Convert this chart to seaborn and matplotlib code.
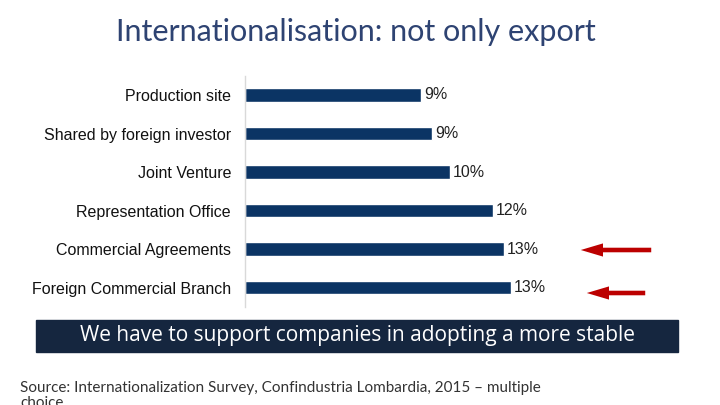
import matplotlib
matplotlib.use("Agg")
import matplotlib.pyplot as plt
from matplotlib.patches import Rectangle, FancyArrowPatch
import seaborn as sns

categories = [
    "Production site",
    "Shared by foreign investor",
    "Joint Venture",
    "Representation Office",
    "Commercial Agreements",
    "Foreign Commercial Branch",
]
shares = [8.8, 9.35, 10.25, 12.4, 12.95, 13.3]
share_labels = ["9%", "9%", "10%", "12%", "13%", "13%"]

title = "Internationalisation: not only export"
banner = "We have to support companies in adopting a more stable"
source = "Source: Internationalization Survey, Confindustria Lombardia, 2015 \u2013 multiple\nchoice"

W, H = 720, 405
bar_color = "#0B3464"
navy_text = "#2E4372"
banner_color = "#15263F"
red = "#BC0000"

sns.set_theme(style="white")
plt.rcParams["font.family"] = ["Liberation Sans", "DejaVu Sans"]

fig = plt.figure(figsize=(7.2, 4.05), dpi=100)
ax = fig.add_axes([245 / W, 98 / H, 455 / W, 231.3 / H])

sns.barplot(x=shares, y=categories, color=bar_color, width=0.35,
            orient="h", saturation=1, ax=ax)
ax.set_xlim(0, 22.75)
ax.set_ylim(5.5, -0.5)
ax.bar_label(ax.containers[0], labels=share_labels, padding=2,
             fontsize=11.5, color="#222222")

for s in ["top", "right", "bottom"]:
    ax.spines[s].set_visible(False)
ax.spines["left"].set_color("#D9D9D9")
ax.spines["left"].set_linewidth(1)
ax.set_xticks([])
ax.tick_params(axis="y", length=0, pad=10, labelsize=11.5, labelcolor="#111111")
ax.set_xlabel("")
ax.set_ylabel("")

fig.text(356 / W, 1 - 32 / H, title, ha="center", va="center",
         fontsize=22, color=navy_text, family=["Lato", "DejaVu Sans"])

fig.patches.append(Rectangle((36 / W, 1 - 352 / H), 642 / W, 32 / H,
                             transform=fig.transFigure, color=banner_color,
                             zorder=0))
fig.text(357 / W, 1 - 336 / H, banner, ha="center", va="center",
         fontsize=15, color="white", family=["Open Sans", "DejaVu Sans"])

fig.text(20 / W, 1 - 381 / H, source, ha="left", va="top", fontsize=11,
         color="#333333", linespacing=1.05, family=["Lato", "DejaVu Sans"])

for (x0, x1, y) in [(578, 654, 250), (584, 648, 293)]:
    fig.patches.append(FancyArrowPatch(
        (x1 / W, 1 - y / H), (x0 / W, 1 - y / H),
        transform=fig.transFigure,
        arrowstyle="simple,head_length=1.6,head_width=0.95,tail_width=0.33",
        mutation_scale=10, color=red, lw=0))

fig.savefig("out.png", dpi=100)
